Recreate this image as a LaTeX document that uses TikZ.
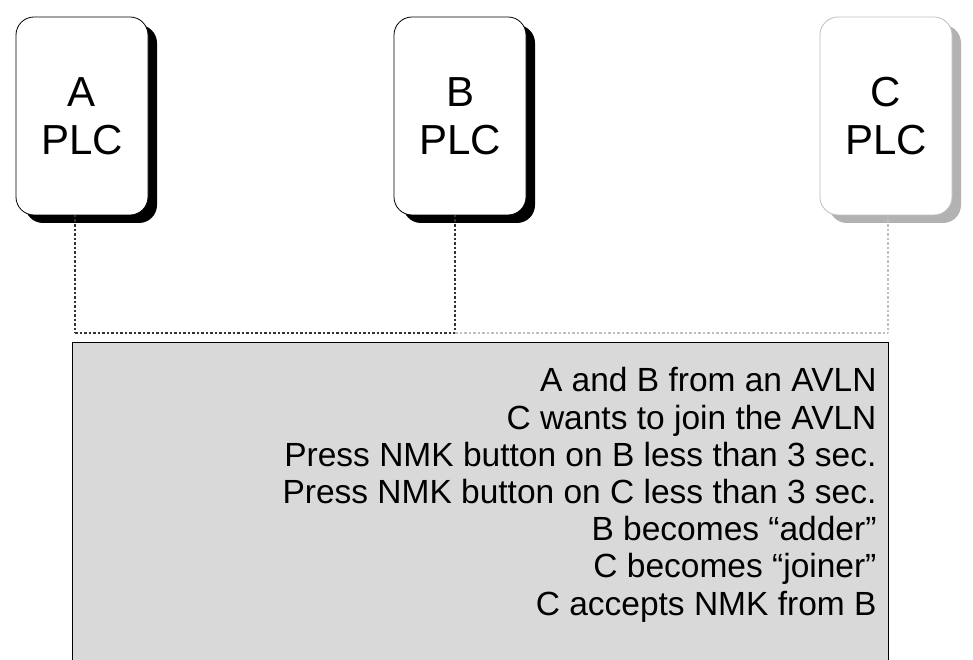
\documentclass[tikz,border=0pt]{standalone}
\usepackage{fontspec}
\setmainfont{Liberation Sans}
\usetikzlibrary{positioning}
\tikzset{
  plc/.style={rectangle,rounded corners=18pt,draw=#1,thick,fill=white,
    minimum width=132pt,minimum height=198pt,align=center,
    font=\fontsize{42}{48}\selectfont},
  shade/.style={rectangle,rounded corners=18pt,fill=#1,
    minimum width=132pt,minimum height=198pt},
  lifeline/.style={draw=#1,dotted,line width=2.5pt}
}
\begin{document}
\begin{tikzpicture}[x=1pt,y=-1pt]
  \useasboundingbox (0,0) rectangle (973,660);
  % shadows
  \node[shade=black] at (91,124) {};
  \node[shade=black] at (469,124) {};
  \node[shade=gray!60] at (895,124) {};
  % stations
  \node[plc=black] (A) at (82,116) {A\\PLC};
  \node[plc=black] (B) at (460,116) {B\\PLC};
  \node[plc=gray!50] (C) at (886,116) {C\\PLC};
  % meeting point
  \coordinate (a) at (75,333);
  \coordinate (b) at (455,333);
  \coordinate (c) at (888,333);
  \draw[lifeline=black!80] (75,215) -- (a);
  \draw[lifeline=black!80] (455,215) -- (b);
  \draw[lifeline=gray!50] (888,215) -- (c);
  \draw[lifeline=black!80] (a) -- (b);
  \draw[lifeline=gray!50] (b) -- (c);
  % message box
  \draw[thick,fill=gray!30] (72,342) rectangle (888,670);
  \node[anchor=north east,align=right,font=\fontsize{33.5}{37.2}\selectfont]
    (msg) at (880,364) {A and B from an AVLN\\C wants to join the AVLN\\
    Press NMK button on B less than 3 sec.\\Press NMK button on C less than 3 sec.\\
    B becomes “adder”\\C becomes “joiner”\\C accepts NMK from B};
\end{tikzpicture}
\end{document}
